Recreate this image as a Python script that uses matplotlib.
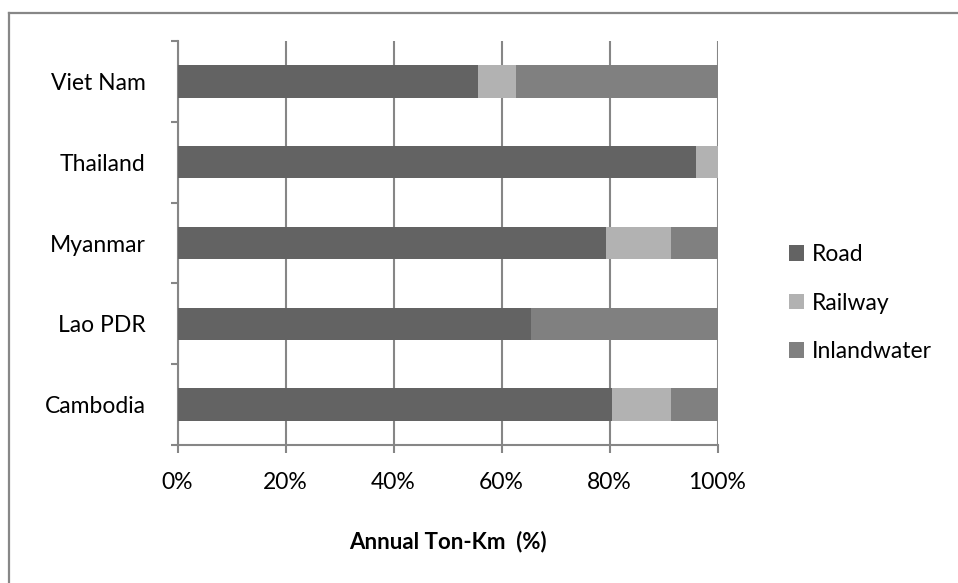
import matplotlib.pyplot as plt
from matplotlib.lines import Line2D
import numpy as np

plt.rcParams['font.family'] = ['Lato', 'DejaVu Sans']

countries = ['Cambodia', 'Lao PDR', 'Myanmar', 'Thailand', 'Viet Nam']
road = [80.5, 65.4, 79.4, 96.1, 55.7]
railway = [10.9, 0.0, 12.0, 3.9, 7.0]
inland = [8.6, 34.6, 8.6, 0.0, 37.3]
modes = ['Road', 'Railway', 'Inlandwater']
colors = ['#636363', '#b2b2b2', '#808080']
grey = '#868686'

fig = plt.figure(figsize=(9.58, 5.83), dpi=100)
ax = fig.add_axes([177.5 / 958, 1 - 445 / 583, 540 / 958, 404 / 583])

y = np.arange(len(countries))
left = np.zeros(len(countries))
for vals, name, c in zip([road, railway, inland], modes, colors):
    ax.barh(y, vals, left=left, height=0.4, color=c, label=name, zorder=3)
    left += np.array(vals)

ax.set_xlim(0, 100)
ax.set_ylim(-0.5, len(countries) - 0.5)
ax.set_xticks(range(0, 101, 20))
ax.set_xticklabels([f'{v}%' for v in range(0, 101, 20)])
ax.set_yticks(y)
ax.set_yticklabels(countries)
ax.set_yticks(np.arange(-0.5, len(countries), 1), minor=True)

ax.xaxis.grid(True, color=grey, linewidth=1.5, zorder=0)
for s in ['top', 'right']:
    ax.spines[s].set_visible(False)
for s in ['left', 'bottom']:
    ax.spines[s].set_color(grey)
    ax.spines[s].set_linewidth(1.5)

ax.tick_params(axis='y', which='major', length=0, pad=23, labelsize=16.5)
ax.tick_params(axis='y', which='minor', length=5, width=1.5, color=grey, direction='out')
ax.tick_params(axis='x', length=5.5, width=1.5, color=grey, direction='out', pad=14, labelsize=16.5)

fig.text(448 / 958, 1 - 542 / 583, 'Annual Ton-Km  (%)', ha='center', va='center',
         fontsize=16, fontweight='bold')

fig.legend(loc='upper left', bbox_to_anchor=(789 / 958, 1 - 244 / 583), frameon=False,
           fontsize=16.5, handlelength=0.65, handleheight=0.65, handletextpad=0.35,
           labelspacing=1.2, borderaxespad=0, borderpad=0)

# chart area border (top and left edges only are visible)
fig.add_artist(Line2D([9 / 958, 1], [1 - 12.5 / 583] * 2, color='#878787', linewidth=1.6))
fig.add_artist(Line2D([9 / 958] * 2, [0, 1 - 12.5 / 583], color='#878787', linewidth=1.6))

fig.savefig('out.png', dpi=100)
